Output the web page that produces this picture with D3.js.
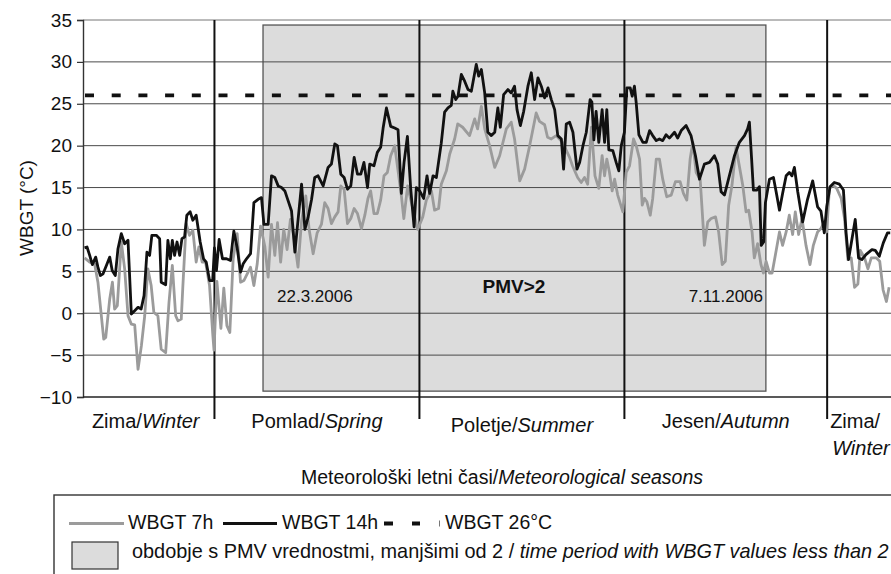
<!DOCTYPE html>
<html><head><meta charset="utf-8">
<script src="https://cdn.jsdelivr.net/npm/d3@7"></script>
<style>
body{margin:0;background:#fff}
svg{display:block}
text{font-family:"Liberation Sans",Arial,Helvetica,sans-serif;fill:#111}
</style>
</head><body>
<svg id="chart" width="891" height="574"></svg>
<script>
// ---------------- DATA ----------------
const yTicks = [-10, -5, 0, 5, 10, 15, 20, 25, 30, 35];
const seasonStarts = [59, 151, 243, 334];          // day of year 2006 (1 Mar, 1 Jun, 1 Sep, 1 Dec)
const seasonLabels = [
  ["Zima/", "Winter"], ["Pomlad/", "Spring"], ["Poletje/", "Summer"],
  ["Jesen/", "Autumn"], ["Zima/", "Winter"]
];
const pmvPeriod = [80.8, 306.5];                    // shaded period (days)
const pmvDates = ["22.3.2006", "7.11.2006"];
const pmvLabel = "PMV>2";
const threshold = 26;
const yTitle = "WBGT (°C)";
const xTitle = ["Meteorološki letni časi/", "Meteorological seasons"];
const legendNames = ["WBGT 7h", "WBGT 14h", "WBGT 26°C"];
const legendArea = ["obdobje s PMV vrednostmi, manjšimi od 2 / ", "time period with WBGT values less than 2"];

const days7 = [0.7,3.0,5.2,6.7,9.3,10.2,12.0,13.2,14.2,15.4,17.2,18.7,20.2,21.7,23.2,24.7,26.2,27.7,29.1,30.6,31.8,33.6,35.1,37.1,38.6,40.1,41.6,42.6,44.1,44.8,46.3,47.8,49.3,50.8,52.0,53.5,55.0,56.8,58.3,58.8,60.1,61.9,63.2,64.6,65.9,67.4,69.2,70.7,72.2,73.7,75.2,76.7,78.2,79.7,81.6,83.1,84.6,86.1,87.3,88.7,90.1,91.6,93.1,94.6,96.5,98.1,100.0,101.5,103.3,105.1,107.0,108.5,110.0,111.5,113.0,114.5,115.7,117.2,118.7,120.2,121.7,123.2,125.0,126.5,127.9,129.1,130.6,132.1,133.6,135.1,136.6,138.1,139.9,142.9,144.0,145.7,147.4,150.2,152.5,154.1,156.4,157.8,159.6,160.8,163.1,164.6,166.8,168.2,170.4,173.5,175.8,177.1,178.8,180.3,182.5,184.8,187.0,190.0,192.2,193.7,196.0,198.2,200.4,203.4,204.9,207.2,208.5,210.2,212.4,215.2,218.4,219.7,222.0,223.6,225.1,226.5,228.2,229.8,231.5,233.0,234.1,235.1,236.3,237.5,238.6,240.0,242.3,243.8,245.3,247.1,248.3,249.8,251.0,252.0,253.1,254.6,255.7,257.3,258.7,260.2,262.0,264.0,265.9,268.0,269.5,271.0,272.5,273.7,275.2,277.0,278.9,280.4,281.9,283.9,285.3,286.9,288.3,289.8,291.3,293.1,296.1,297.6,298.8,300.3,301.3,302.8,304.3,305.4,306.6,308.1,309.3,310.8,312.6,314.0,315.6,317.0,318.5,319.7,321.2,322.7,324.5,326.3,327.8,329.7,331.2,332.7,333.8,335.0,336.5,338.3,340.3,341.8,343.3,344.8,346.3,347.8,348.9,350.8,352.3,353.8,356.1,357.6,359.1,360.6,361.8];
const wbgt7 = [6.6,6.1,5.9,3.7,-3.1,-2.9,1.7,3.7,0.5,0.9,8.5,5.3,-0.3,-1.3,-1.4,-6.7,-3.9,-0.3,5.3,3.3,0.1,-0.3,-4.3,-4.7,1.3,5.7,-0.3,-0.9,-0.7,3.1,10.7,9.3,9.9,6.1,7.9,6.1,6.1,3.3,-2.7,-4.4,3.8,-1.8,3.0,-1.5,-2.3,6.5,9.5,3.7,3.9,4.7,5.5,3.3,5.9,10.4,8.0,4.3,10.6,6.9,10.8,6.1,10.0,7.6,11.2,9.2,5.5,11.0,14.0,10.0,7.1,9.6,10.6,13.2,12.5,10.7,11.5,12.1,15.2,14.8,10.7,11.3,12.5,11.9,10.1,11.7,13.7,14.6,11.9,11.9,13.5,16.4,16.8,18.8,20.0,14.0,11.3,15.2,13.2,10.0,11.5,13.5,14.6,12.3,12.5,15.4,17.0,19.0,20.8,22.6,22.2,21.2,23.2,22.0,24.7,22.0,20.0,17.4,18.8,22.0,22.8,20.8,15.8,17.2,19.9,23.9,22.9,22.5,21.0,20.8,21.2,20.4,18.6,17.6,16.2,15.6,16.2,15.4,22.2,16.4,14.9,18.8,16.4,18.4,16.8,14.6,16.0,14.1,12.1,16.8,17.6,20.8,20.0,18.4,12.9,13.7,13.3,11.7,13.7,18.4,18.4,16.0,13.9,14.1,15.7,15.7,14.3,13.5,18.4,20.4,16.8,16.0,8.1,10.9,11.3,11.5,9.7,5.8,6.2,12.9,15.3,19.8,15.3,12.1,12.3,9.7,6.6,8.3,5.8,4.8,6.2,4.8,4.8,7.0,9.7,8.1,9.7,11.7,9.4,12.1,9.4,11.3,8.1,5.8,8.1,9.7,10.1,10.9,9.7,14.9,15.3,14.9,13.7,11.3,6.4,6.6,3.1,3.5,7.5,6.6,5.3,6.6,6.6,6.2,2.8,1.4,3.1];

const days14 = [0.7,1.8,3.0,4.2,5.7,6.7,7.8,9.0,10.5,12.0,13.1,14.5,15.7,17.2,18.7,20.2,21.7,23.2,24.7,26.1,27.4,28.7,29.9,30.9,32.9,34.4,35.1,37.1,38.1,39.2,40.1,41.1,42.2,43.4,44.4,45.6,46.6,48.1,49.3,50.8,52.6,54.1,55.3,56.8,58.2,59.0,59.9,61.1,62.6,64.4,66.2,67.7,69.2,70.7,71.9,73.4,75.2,76.7,78.6,80.1,81.2,83.1,84.6,86.1,87.6,89.1,90.6,91.6,93.6,95.1,98.1,99.6,101.0,102.6,104.0,105.5,107.8,110.0,111.5,113.0,114.2,115.7,117.2,118.7,120.2,121.7,123.2,124.7,126.1,127.7,128.7,130.6,132.1,133.6,134.7,136.2,138.1,139.9,141.4,142.9,144.1,145.6,147.1,148.6,149.6,151.1,152.9,154.4,155.6,157.1,158.6,160.8,162.3,163.8,165.3,166.0,167.3,168.3,169.8,171.3,172.8,174.3,175.0,176.5,177.6,178.8,180.3,181.7,183.3,184.8,186.2,187.3,188.8,190.7,192.2,193.7,194.8,196.3,197.8,199.7,201.2,202.7,204.2,205.7,207.2,208.7,210.2,211.7,213.1,214.7,215.7,216.9,218.4,219.9,221.7,222.9,224.4,225.9,227.6,228.4,229.3,230.3,231.5,233.0,234.1,235.1,236.0,237.8,239.3,240.5,241.6,243.0,244.1,245.6,246.5,247.5,248.3,249.5,251.3,252.8,254.3,255.7,257.3,258.7,260.2,261.7,263.2,265.5,266.9,268.5,270.7,272.9,274.9,276.7,278.9,281.2,283.4,284.9,286.4,287.9,290.1,292.4,294.6,296.9,298.3,299.1,300.1,300.9,302.4,303.6,304.4,305.5,306.3,308.1,309.9,311.1,312.6,314.0,315.6,317.0,318.2,319.3,320.8,323.0,325.2,327.5,329.7,331.2,332.7,333.8,335.3,337.2,339.5,341.3,342.5,343.6,345.1,346.6,348.1,349.6,351.4,354.1,355.6,357.4,359.2,361.1,362.3];
const wbgt14 = [7.8,7.9,6.9,5.8,6.7,5.5,4.5,4.7,5.7,6.7,5.1,4.5,7.7,9.5,8.3,8.7,-0.1,0.3,0.7,0.5,2.1,7.3,6.9,9.3,9.3,8.9,3.7,3.4,8.7,6.5,8.7,6.9,8.5,6.9,8.9,9.1,11.7,12.1,11.1,11.7,8.5,6.5,6.1,3.9,3.9,7.8,5.1,8.8,6.5,6.5,6.3,9.8,7.8,4.9,5.9,6.5,7.1,13.2,13.6,13.8,10.6,10.6,16.4,16.2,15.2,15.0,14.6,13.8,12.2,7.3,15.4,10.0,11.4,13.6,16.2,16.4,15.2,17.4,17.8,20.2,20.0,16.6,16.2,14.8,15.2,18.6,16.6,16.6,18.0,15.0,17.8,17.6,19.2,19.8,22.1,24.5,22.3,22.1,21.9,14.3,18.0,21.1,14.8,10.3,15.0,14.6,13.7,16.4,14.3,16.4,16.2,20.3,24.0,24.5,24.8,26.5,25.5,25.9,28.5,27.7,26.7,26.5,27.5,29.7,28.3,29.1,26.3,21.6,21.2,21.6,24.5,22.2,26.1,26.7,26.3,27.1,24.3,22.4,24.1,27.1,28.7,25.5,28.1,27.1,25.7,26.9,25.5,24.3,21.2,20.8,17.2,22.6,22.8,21.6,17.2,18.0,20.0,21.6,25.5,25.2,20.7,24.1,20.4,24.3,20.4,24.3,19.5,19.4,18.0,17.0,20.0,21.6,26.9,26.9,25.9,27.1,25.1,21.3,20.4,20.4,21.8,21.2,20.6,20.8,20.6,21.3,20.9,21.6,20.9,21.8,22.4,21.2,18.8,16.0,17.8,18.0,18.8,17.8,14.5,14.1,16.4,18.8,20.4,21.2,22.0,22.8,18.4,14.7,14.7,15.1,8.1,8.5,13.2,16.0,16.2,14.5,12.3,14.3,16.4,16.8,16.4,17.4,14.5,10.9,13.6,15.8,12.7,12.2,9.6,12.7,15.1,15.6,15.4,14.7,9.6,6.4,8.8,11.2,6.6,6.4,7.0,7.6,7.5,6.8,8.4,9.6,9.6];

// ---------------- LAYOUT ----------------
const W = 891, H = 574;
const L = 83, T = 20, B = 397;
const x = d3.scaleLinear().domain([0, 365]).range([L, L + 365 * 2.228]);
const y = d3.scaleLinear().domain([-10, 35]).range([B, T]);

const svg = d3.select("#chart");
const g = svg.append("g");

// shaded PMV period
g.append("rect")
  .attr("x", x(pmvPeriod[0])).attr("y", y(34.4))
  .attr("width", x(pmvPeriod[1]) - x(pmvPeriod[0]))
  .attr("height", y(-9.3) - y(34.4))
  .attr("fill", "#dcdcdc").attr("stroke", "#555").attr("stroke-width", 1.3);

// gridlines
g.append("g").selectAll("line").data(yTicks.filter(v => v > -10)).join("line")
  .attr("x1", L).attr("x2", W).attr("y1", d => y(d)).attr("y2", d => y(d))
  .attr("stroke", d => d === 35 ? "#777" : "#4a4a4a").attr("stroke-width", 1);

// y axis
const ya = g.append("g").attr("transform", `translate(${L},0)`)
  .call(d3.axisLeft(y).tickValues(yTicks).tickSize(6).tickPadding(5).tickFormat(d3.format("d")));
ya.select(".domain").attr("stroke", "#333").attr("stroke-width", 1.4);
ya.selectAll(".tick line").attr("stroke", "#333").attr("stroke-width", 1.2);
ya.selectAll(".tick text").attr("font-size", 19).attr("fill", "#111")
  .attr("font-family", "Liberation Sans, Arial, sans-serif");

// bottom axis line
g.append("line").attr("x1", L).attr("x2", W).attr("y1", B).attr("y2", B)
  .attr("stroke", "#222").attr("stroke-width", 1.5);

// season separators
g.append("g").selectAll("line").data(seasonStarts).join("line")
  .attr("x1", d => x(d)).attr("x2", d => x(d)).attr("y1", T).attr("y2", 419)
  .attr("stroke", "#111").attr("stroke-width", 2);

// threshold dashed line
g.append("line").attr("x1", 85).attr("x2", W).attr("y1", y(threshold)).attr("y2", y(threshold))
  .attr("stroke", "#111").attr("stroke-width", 3.8).attr("stroke-dasharray", "9,17.7");

// series
const line = d3.line().x(d => x(d[0])).y(d => y(d[1]));
g.append("path").datum(days7.map((d, i) => [d, wbgt7[i]]))
  .attr("d", line).attr("fill", "none").attr("stroke", "#9b9b9b")
  .attr("stroke-width", 2.8).attr("stroke-linejoin", "round");
g.append("path").datum(days14.map((d, i) => [d, wbgt14[i]]))
  .attr("d", line).attr("fill", "none").attr("stroke", "#111")
  .attr("stroke-width", 2.8).attr("stroke-linejoin", "round");

// annotations
g.append("text").attr("x", 277).attr("y", 302).attr("font-size", 17).text(pmvDates[0]);
g.append("text").attr("x", 763).attr("y", 302).attr("font-size", 17).attr("text-anchor", "end").text(pmvDates[1]);
g.append("text").attr("x", 514).attr("y", 293).attr("font-size", 19).attr("font-weight", "bold")
  .attr("text-anchor", "middle").text(pmvLabel);

// y title
g.append("text").attr("transform", "translate(33,208) rotate(-90)")
  .attr("text-anchor", "middle").attr("font-size", 19).text(yTitle);

// season labels
const bounds = [0, ...seasonStarts, 365];
seasonLabels.forEach((lab, i) => {
  if (i < 4) {
    const cx = (x(bounds[i]) + x(bounds[i + 1])) / 2 - (i === 0 ? 3 : 0);
    const t = g.append("text").attr("x", cx).attr("y", i === 2 ? 432 : 428)
      .attr("font-size", 20).attr("text-anchor", "middle");
    t.append("tspan").text(lab[0]);
    t.append("tspan").attr("font-style", "italic").text(lab[1]);
  } else {
    g.append("text").attr("x", x(bounds[i]) + 3).attr("y", 428).attr("font-size", 20).text(lab[0]);
    g.append("text").attr("x", x(bounds[i]) + 5).attr("y", 455).attr("font-size", 20)
      .attr("font-style", "italic").text(lab[1]);
  }
});

// x title
const xt = g.append("text").attr("x", 502).attr("y", 484).attr("font-size", 19.5).attr("text-anchor", "middle");
xt.append("tspan").text(xTitle[0]);
xt.append("tspan").attr("font-style", "italic").text(xTitle[1]);

// legend
const lg = svg.append("g");
lg.append("rect").attr("x", 54).attr("y", 495).attr("width", 900).attr("height", 120)
  .attr("fill", "#fff").attr("stroke", "#333").attr("stroke-width", 1.4);
const ly = 523.5, lb = 529;
lg.append("line").attr("x1", 69).attr("x2", 124).attr("y1", ly).attr("y2", ly)
  .attr("stroke", "#9b9b9b").attr("stroke-width", 3);
lg.append("text").attr("x", 128).attr("y", lb).attr("font-size", 19.5).text(legendNames[0]);
lg.append("line").attr("x1", 223).attr("x2", 277).attr("y1", ly).attr("y2", ly)
  .attr("stroke", "#111").attr("stroke-width", 3).attr("stroke-linecap", "butt");
lg.append("text").attr("x", 282).attr("y", lb).attr("font-size", 19.5).text(legendNames[1]);
lg.append("line").attr("x1", 384).attr("x2", 420).attr("y1", ly).attr("y2", ly)
  .attr("stroke", "#111").attr("stroke-width", 3.8).attr("stroke-dasharray", "9,19");
lg.append("line").attr("x1", 439.5).attr("x2", 439.5).attr("y1", ly - 3).attr("y2", ly + 3)
  .attr("stroke", "#777").attr("stroke-width", 1);
lg.append("text").attr("x", 445).attr("y", lb).attr("font-size", 19.5).text(legendNames[2]);

lg.append("rect").attr("x", 72).attr("y", 542).attr("width", 46).attr("height", 27)
  .attr("fill", "#dcdcdc").attr("stroke", "#333").attr("stroke-width", 1.2);
const l2 = lg.append("text").attr("x", 132).attr("y", 558).attr("font-size", 19);
l2.append("tspan").text(legendArea[0]);
l2.append("tspan").attr("font-style", "italic").text(legendArea[1]);
const w2 = l2.node().getComputedTextLength();
l2.attr("font-size", 19 * 757 / w2);
</script>
</body></html>
